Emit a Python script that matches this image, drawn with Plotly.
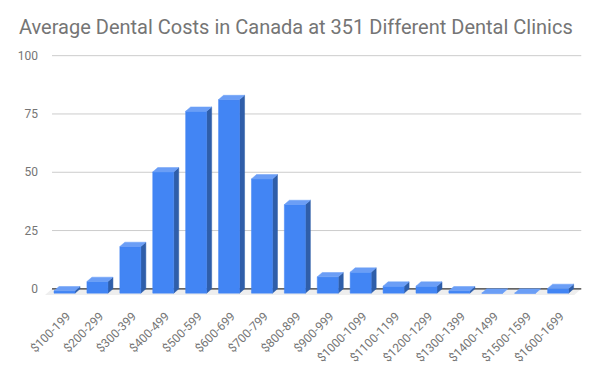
import plotly.graph_objects as go

# ---- data ----
categories = ["$100-199", "$200-299", "$300-399", "$400-499", "$500-599", "$600-699",
              "$700-799", "$800-899", "$900-999", "$1000-1099", "$1100-1199", "$1200-1299",
              "$1300-1399", "$1400-1499", "$1500-1599", "$1600-1699"]
counts = [1, 5, 20, 52, 78, 83, 49, 38, 7, 9, 3, 3, 1, 0, 0, 2]
y_ticks = [0, 25, 50, 75, 100]

# ---- styling constants (3D look) ----
FRONT = "#4285f4"
TOP = "#6b9ef6"
SIDE = "#2f5ea9"
FLOOR = "#eeeeee"
GRID = "#cccccc"
TEXT = "#757575"

half_left = 13 / 32.89      # front face left offset from category center
half_right = 8 / 32.89      # front face right offset
DX = 5 / 32.89              # depth shift in x (units)
DY = 1.85                   # depth shift in y (units)
FLOOR_DX = 7 / 32.89
FLOOR_DY = 2.6
GRID_X0, GRID_X1 = -0.456, 15.628

xs = list(range(len(categories)))

fig = go.Figure()

# floor
fig.add_trace(go.Scatter(
    x=[GRID_X0, GRID_X1, GRID_X1 - FLOOR_DX, GRID_X0 - FLOOR_DX, GRID_X0],
    y=[0, 0, -FLOOR_DY, -FLOOR_DY, 0],
    fill="toself", fillcolor=FLOOR, line=dict(width=0), mode="lines",
    hoverinfo="skip", showlegend=False))

# gridlines
gx, gy = [], []
for t in y_ticks[1:]:
    gx += [GRID_X0, GRID_X1, None]
    gy += [t, t, None]
fig.add_trace(go.Scatter(x=gx, y=gy, mode="lines", line=dict(color=GRID, width=1),
                         hoverinfo="skip", showlegend=False))
# baseline
fig.add_trace(go.Scatter(x=[GRID_X0, GRID_X1], y=[0, 0], mode="lines",
                         line=dict(color="#333333", width=1.2),
                         hoverinfo="skip", showlegend=False))

fx, fy, tx, ty, sx, sy = [], [], [], [], [], []
for i, v in zip(xs, counts):
    x0 = i - half_left
    x1 = i + half_right
    # front face
    fx += [x0, x1, x1, x0, x0, None]
    fy += [-DY, -DY, v - DY, v - DY, -DY, None]
    # top face
    tx += [x0, x1, x1 + DX, x0 + DX, x0, None]
    ty += [v - DY, v - DY, v, v, v - DY, None]
    # side face
    if v > 0:
        sx += [x1, x1 + DX, x1 + DX, x1, x1, None]
        sy += [-DY, 0, v, v - DY, -DY, None]

for px, py, col in [(sx, sy, SIDE), (fx, fy, FRONT), (tx, ty, TOP)]:
    fig.add_trace(go.Scatter(x=px, y=py, fill="toself", fillcolor=col,
                             line=dict(width=0.5, color=col), mode="lines",
                             hoverinfo="skip", showlegend=False))

# page body has an 8px margin; figure size/margins compensate for it
fig.update_layout(
    width=590, height=362,
    margin=dict(l=36, r=16, t=43, b=73, autoexpand=False),
    paper_bgcolor="white", plot_bgcolor="white",
    font=dict(family="Roboto", color=TEXT, size=12),
    title=dict(text="Average Dental Costs in Canada at 351 Different Dental Clinics",
               font=dict(family="Roboto", size=20, color=TEXT),
               xref="container", yref="container", x=11 / 590, xanchor="left",
               y=1 - 12 / 362, yanchor="top"),
    showlegend=False,
)
fig.update_xaxes(range=[-0.7, 15.65], tickmode="array", tickvals=xs, ticktext=categories,
                 tickangle=-45, showgrid=False, zeroline=False, showline=False, ticks="",
                 automargin=False,
                 ticklabelstandoff=9, tickfont=dict(size=12, color=TEXT))
fig.update_yaxes(range=[-3.5, 102], tickmode="array", tickvals=y_ticks,
                 showgrid=False, zeroline=False, showline=False, ticks="",
                 automargin=False,
                 ticklabelstandoff=5, tickfont=dict(size=12, color=TEXT))

fig.write_html("out.html")
